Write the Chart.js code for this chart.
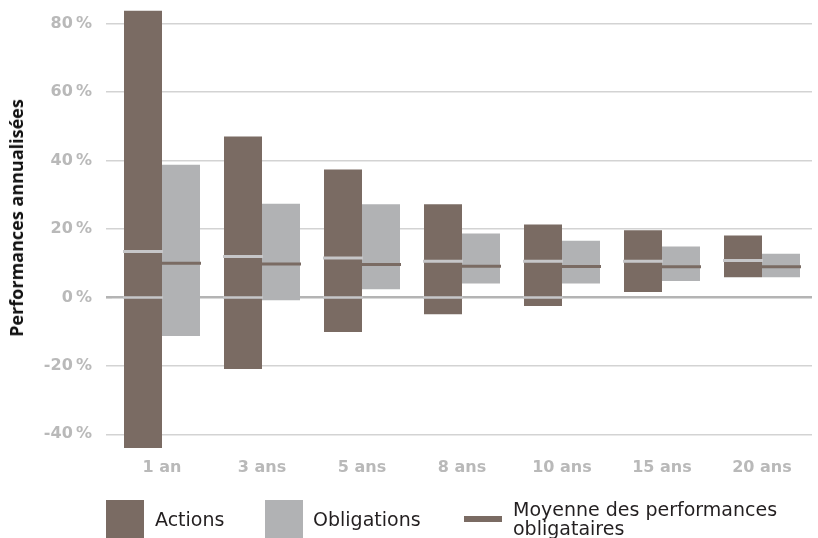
<!DOCTYPE html>
<html lang="fr">
<head>
<meta charset="utf-8">
<title>Performances annualisées</title>
<script src="https://cdn.jsdelivr.net/npm/chart.js@4/dist/chart.umd.min.js"></script>
<style>
  html, body { margin: 0; padding: 0; background: #ffffff; }
  #wrap { position: relative; width: 818px; height: 538px; overflow: hidden; }
  #chart { position: absolute; left: 0; top: 0; }
  .ytitle {
    position: absolute; left: 16px; top: 218px;
    transform: translate(-50%, -50%) rotate(-90deg);
    font: bold 18px "Open Sans", sans-serif; color: #111111; white-space: nowrap;
  }
  .lg-box { position: absolute; }
  .lg-text {
    position: absolute; font: 19px "DejaVu Sans", sans-serif; line-height: 19px;
    color: #231f20; white-space: nowrap;
  }
</style>
</head>
<body>
<div id="wrap">
  <canvas id="chart" width="818" height="538"></canvas>
  <div class="ytitle" id="ytitle"></div>
  <div id="legend"></div>
</div>
<script>
// Horizons de placement
const categories = ['1 an', '3 ans', '5 ans', '8 ans', '10 ans', '15 ans', '20 ans'];

// Actions : plage des performances annualisées (min / max) et moyenne, en %
const actionsLow  = [-44.0, -20.9, -10.1, -4.9, -2.5, 1.6, 5.9];
const actionsHigh = [83.8, 47.0, 37.4, 27.2, 21.3, 19.6, 18.1];
const actionsMean = [13.4, 12.0, 11.5, 10.6, 10.6, 10.6, 10.8];

// Obligations : plage des performances annualisées (min / max) et moyenne, en %
const obligLow  = [-11.3, -0.8, 2.4, 4.1, 4.1, 4.8, 5.9];
const obligHigh = [38.8, 27.4, 27.2, 18.7, 16.6, 14.9, 12.8];
const obligMean = [10.0, 9.8, 9.6, 9.1, 9.05, 9.0, 9.0];

// Axe vertical
const yTicks = [-40, -20, 0, 20, 40, 60, 80];
const yMin = -44;
const yMax = 84;

const axisTitle = 'Performances annualisées';
const legendItems = ['Actions', 'Obligations', 'Moyenne des performances|obligataires'];

const BROWN = '#7a6b63';
const GREY = '#b1b2b4';
const LIGHT = '#c6c6c8';

// Traits de moyenne et passage du zéro sur les barres
const meanMarks = {
  id: 'meanMarks',
  afterDatasetsDraw(chart) {
    const ctx = chart.ctx;
    const y = chart.scales.y;
    const area = chart.chartArea;
    ctx.save();
    ctx.beginPath();
    ctx.rect(area.left, area.top, area.right - area.left, area.bottom - area.top);
    ctx.clip();
    const hline = (bar, value, color, width) => {
      const py = y.getPixelForValue(value);
      ctx.strokeStyle = color;
      ctx.lineWidth = width;
      ctx.beginPath();
      ctx.moveTo(bar.x - bar.width / 2 - 1, py);
      ctx.lineTo(bar.x + bar.width / 2 + 1, py);
      ctx.stroke();
    };
    const aMeta = chart.getDatasetMeta(0);
    aMeta.data.forEach((bar, i) => {
      if (actionsLow[i] < 0 && actionsHigh[i] > 0) hline(bar, 0, LIGHT, 2.6);
      hline(bar, actionsMean[i], LIGHT, 3);
    });
    const oMeta = chart.getDatasetMeta(1);
    oMeta.data.forEach((bar, i) => {
      hline(bar, obligMean[i], BROWN, 3);
    });
    ctx.restore();
  }
};

new Chart(document.getElementById('chart'), {
  type: 'bar',
  data: {
    labels: categories,
    datasets: [
      {
        label: 'Actions',
        data: categories.map((c, i) => [actionsLow[i], actionsHigh[i]]),
        backgroundColor: BROWN,
        borderWidth: 0,
        categoryPercentage: 0.76,
        barPercentage: 1.0
      },
      {
        label: 'Obligations',
        data: categories.map((c, i) => [obligLow[i], obligHigh[i]]),
        backgroundColor: GREY,
        borderWidth: 0,
        categoryPercentage: 0.76,
        barPercentage: 1.0
      }
    ]
  },
  options: {
    responsive: false,
    devicePixelRatio: 1,
    animation: false,
    layout: { padding: { top: 10, right: 6, left: 0, bottom: 0 } },
    plugins: {
      legend: { display: false },
      tooltip: { enabled: false },
      title: { display: false }
    },
    scales: {
      x: {
        grid: { display: false, drawTicks: false },
        border: { display: false },
        ticks: {
          color: '#b9b9b9',
          padding: 10,
          font: { family: 'DejaVu Sans', size: 16, weight: 'bold' }
        },
        afterFit(scale) { scale.height = 90; scale.paddingLeft = 0; scale.paddingRight = 0; }
      },
      y: {
        min: yMin,
        max: yMax,
        stacked: false,
        afterBuildTicks(scale) { scale.ticks = yTicks.map(v => ({ value: v })); },
        afterFit(scale) { scale.width = 112; scale.paddingTop = 0; scale.paddingBottom = 0; },
        border: { display: false },
        grid: {
          color: ctx => (ctx.tick && ctx.tick.value === 0) ? '#b4b4b4' : '#d3d3d3',
          lineWidth: ctx => (ctx.tick && ctx.tick.value === 0) ? 2.6 : 1.5,
          drawTicks: true,
          tickLength: 6
        },
        ticks: {
          color: '#b9b9b9',
          padding: 14,
          font: { family: 'DejaVu Sans', size: 16, weight: 'bold' },
          callback: v => v + '\u2009%'
        }
      }
    }
  },
  plugins: [meanMarks]
});

// Titre de l'axe vertical
document.getElementById('ytitle').textContent = axisTitle;

// Légende
const legend = document.getElementById('legend');
const addBox = (left, top, w, h, color) => {
  const d = document.createElement('div');
  d.className = 'lg-box';
  Object.assign(d.style, { left: left + 'px', top: top + 'px', width: w + 'px', height: h + 'px', background: color });
  legend.appendChild(d);
};
const addText = (left, top, text) => {
  const d = document.createElement('div');
  d.className = 'lg-text';
  Object.assign(d.style, { left: left + 'px', top: top + 'px' });
  text.split('|').forEach((line, k) => {
    if (k) d.appendChild(document.createElement('br'));
    d.appendChild(document.createTextNode(line));
  });
  legend.appendChild(d);
};
addBox(106, 500, 38, 38, BROWN);
addText(155, 510, legendItems[0]);
addBox(265, 500, 38, 38, GREY);
addText(313, 510, legendItems[1]);
addBox(464, 516, 38, 6, BROWN);
addText(513, 500, legendItems[2]);
</script>
</body>
</html>
